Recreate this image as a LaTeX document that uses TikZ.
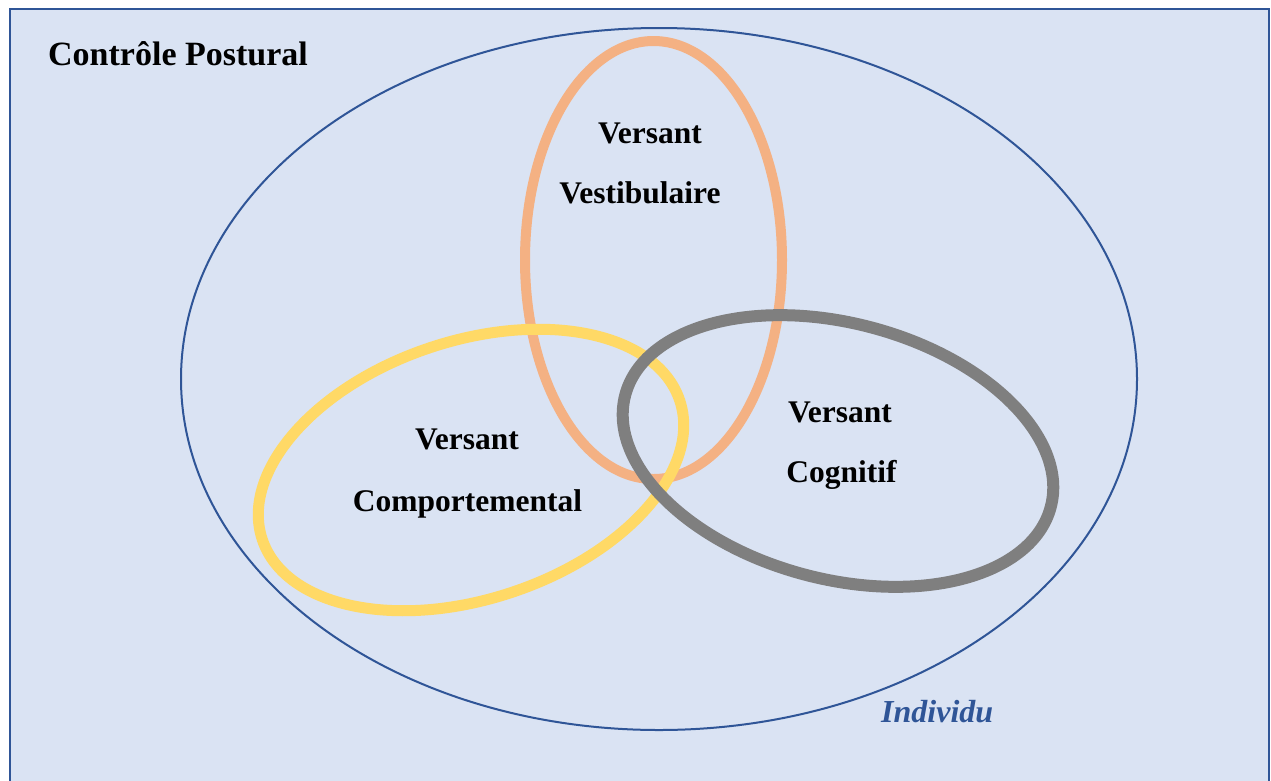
\documentclass[tikz,border=0pt]{standalone}
\usepackage{fontspec}
\setmainfont{Liberation Serif}
\definecolor{bgblue}{HTML}{DAE3F3}
\definecolor{darkblue}{HTML}{2F5597}
\definecolor{vorange}{HTML}{F4B183}
\definecolor{vyellow}{HTML}{FFD966}
\definecolor{vgray}{HTML}{7F7F7F}
\tikzset{
  label/.style={font=\fontsize{31.5}{36}\selectfont\bfseries, text=black, anchor=base, inner sep=0pt},
  ring/.style={line width=#1},
}
\begin{document}
\begin{tikzpicture}[x=1pt,y=-1pt]
\useasboundingbox (0,0) rectangle (1271,780);
\clip (0,0) rectangle (1271,780);
\fill[white] (0,0) rectangle (1271,780);
\draw[darkblue, line width=2pt, fill=bgblue] (10,9) rectangle (1269,800);
% outer ellipse
\coordinate (co) at (659,379);
\draw[darkblue, line width=2pt] (co) ellipse [x radius=478, y radius=351];
% orange
\coordinate (cor) at (653.5,260);
\draw[vorange, ring=10pt] (cor) ellipse [x radius=128.5, y radius=219];
% yellow
\coordinate (cy) at (471,470);
\draw[vyellow, ring=11pt, rotate around={18.4:(cy)}] (cy) ellipse [x radius=220, y radius=129];
% gray
\coordinate (cg) at (838,451);
\draw[vgray, ring=12pt, rotate around={-14.7:(cg)}] (cg) ellipse [x radius=220, y radius=128];
% texts
\node[anchor=base west, inner sep=0pt, font=\fontsize{34}{40}\selectfont\bfseries] (title) at (48,65) {Contrôle Postural};
\node[anchor=base west, inner sep=0pt, text=darkblue, font=\fontsize{32}{38}\selectfont\bfseries\itshape] (indiv) at (881,722) {Individu};
\node[label] (v1) at (650,143) {Versant};
\node[label] (v1b) at (640,203) {Vestibulaire};
\node[label] (v2) at (467,449) {Versant};
\node[label] (v2b) at (467.5,511) {Comportemental};
\node[label] (v3) at (840,422) {Versant};
\node[label] (v3b) at (841.5,482) {Cognitif};
\end{tikzpicture}
\end{document}
